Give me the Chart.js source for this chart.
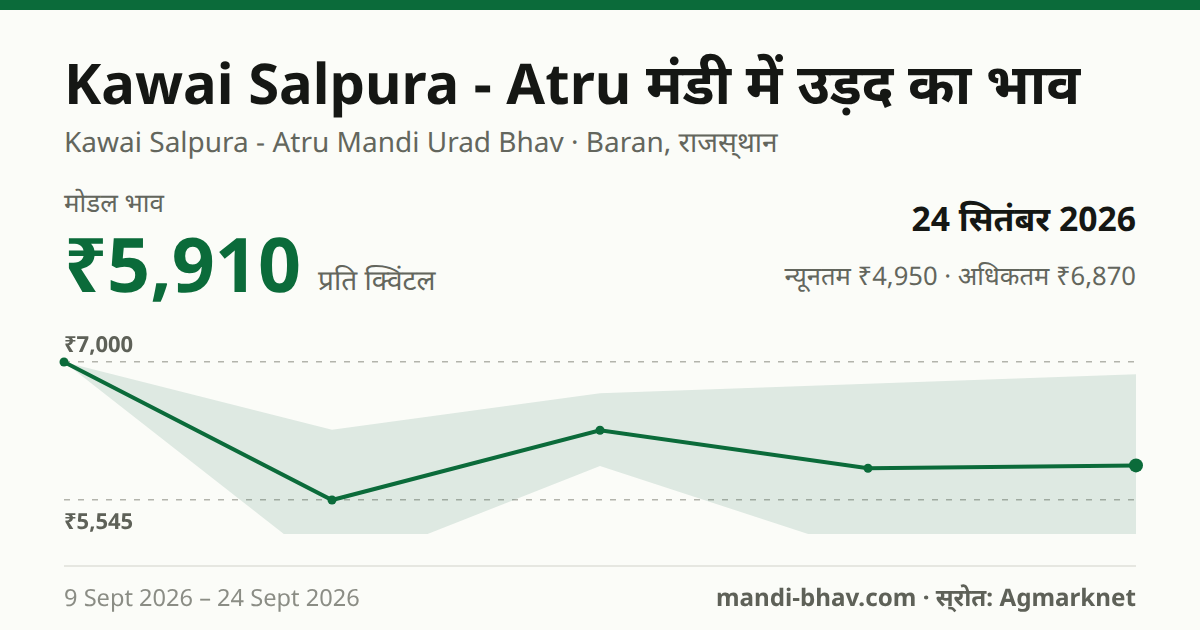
<!DOCTYPE html>
<html>
<head>
<meta charset="utf-8">
<title>Kawai Salpura - Atru मंडी में उड़द का भाव</title>
<script src="https://cdn.jsdelivr.net/npm/chart.js@4"></script>
<style>
  html, body { margin: 0; padding: 0; }
  body { width: 1200px; height: 630px; overflow: hidden; background: #fbfcf8; position: relative;
         font-family: "Noto Sans", sans-serif; text-rendering: geometricPrecision; }
  #bar { position: absolute; left: 0; top: 0; width: 1200px; height: 10px; background: #0b6b3a; }
  #rule { position: absolute; left: 64px; top: 565px; width: 1072px; height: 2px; background: #e6e7e1; }
  #chartBox { position: absolute; left: 0; top: 0; width: 1200px; height: 630px; }
  .t { position: absolute; white-space: nowrap; line-height: 1; }
  #title { left: 64px; top: 55px; font-size: 56.2px; font-weight: 700; color: #151714; }
  #sub { left: 64px; top: 128px; font-size: 28px; color: #63665d; }
  #modalLabel { left: 64px; top: 189px; font-size: 26px; color: #63665d; }
  #price { left: 64px; top: 226px; font-size: 75.4px; font-weight: 700; color: #0b6b3a; }
  #unit { left: 318px; top: 266px; font-size: 28px; color: #63665d; }
  #date { right: 64px; top: 202px; font-size: 33.7px; font-weight: 700; color: #151714; }
  #range { right: 64px; top: 263px; font-size: 25.6px; color: #63665d; }
  #period { left: 64px; top: 586px; font-size: 23.6px; color: #8b8d85; }
  #source { right: 64px; top: 586px; font-size: 24.2px; font-weight: 700; color: #5e6158; }
</style>
</head>
<body>
<div id="bar"></div>
<div class="t" id="title">Kawai Salpura - Atru मंडी में उड़द का भाव</div>
<div class="t" id="sub">Kawai Salpura - Atru Mandi Urad Bhav · Baran, राजस्&zwnj;थान</div>
<div class="t" id="modalLabel">मोडल भाव</div>
<div class="t" id="price">₹5,910</div>
<div class="t" id="unit">प्रति क्विंटल</div>
<div class="t" id="date">24 सितंबर 2026</div>
<div class="t" id="range">न्यूनतम ₹4,950 · अधिकतम ₹6,870</div>
<div id="chartBox"><canvas id="priceChart"></canvas></div>
<div id="rule"></div>
<div class="t" id="period">9 Sept 2026 – 24 Sept 2026</div>
<div class="t" id="source">mandi-bhav.com · स्&zwnj;रोत: Agmarknet</div>

<script>
var categories = ['9 Sept', '13 Sept', '17 Sept', '21 Sept', '24 Sept'];
var modalPrices = [7000, 5545, 6281, 5880, 5910];
var maxPrices = [7000, 6287, 6670, 6770, 6870];
var minPrices = [7000, 4790, 5903, 4981, 4950];
var axisTicks = [5545, 7000];
var axisMin = 5187;
var axisMax = 7000;

var green = '#0b6b3a';

// price labels sit just above / below their dashed lines
var tickLabels = {
  id: 'tickLabels',
  afterDraw: function (chart) {
    var ctx = chart.ctx;
    var y = chart.scales.y;
    ctx.save();
    ctx.textRendering = 'geometricPrecision';
    ctx.font = '700 22px "Noto Sans", sans-serif';
    ctx.fillStyle = '#5e6158';
    ctx.textAlign = 'left';
    ctx.textBaseline = 'alphabetic';
    axisTicks.forEach(function (v) {
      var text = '₹' + v.toLocaleString('en-IN');
      var py = y.getPixelForValue(v);
      ctx.fillText(text, y.left, v === axisMax ? py - 10 : py + 29);
    });
    ctx.restore();
  }
};

new Chart(document.getElementById('priceChart'), {
  type: 'line',
  data: {
    labels: categories,
    datasets: [{
      label: 'Modal',
      data: modalPrices,
      borderColor: green,
      backgroundColor: green,
      borderWidth: 4,
      tension: 0,
      fill: false,
      clip: { left: 10, right: 10, top: 10, bottom: 10 },
      pointBackgroundColor: green,
      pointBorderWidth: 0,
      pointRadius: function (c) { return c.dataIndex === categories.length - 1 ? 7 : 4.5; }
    }, {
      label: 'Max',
      data: maxPrices,
      borderWidth: 0,
      pointRadius: 0,
      tension: 0,
      fill: '+1',
      backgroundColor: 'rgba(20, 95, 70, 0.12)'
    }, {
      label: 'Min',
      data: minPrices,
      borderWidth: 0,
      pointRadius: 0,
      tension: 0,
      fill: false
    }]
  },
  options: {
    responsive: true,
    maintainAspectRatio: false,
    animation: false,
    layout: { padding: { left: 64, right: 64, top: 362, bottom: 96 } },
    plugins: { legend: { display: false }, tooltip: { enabled: false } },
    scales: {
      x: { display: false },
      y: {
        min: axisMin,
        max: axisMax,
        afterBuildTicks: function (axis) {
          axis.ticks = axisTicks.map(function (v) { return { value: v }; });
        },
        border: { display: false, dash: [6, 8] },
        ticks: { display: false },
        grid: {
          drawTicks: false,
          color: '#b3b4ac',
          lineWidth: 1.5
        }
      }
    }
  },
  plugins: [tickLabels]
});
</script>
</body>
</html>
